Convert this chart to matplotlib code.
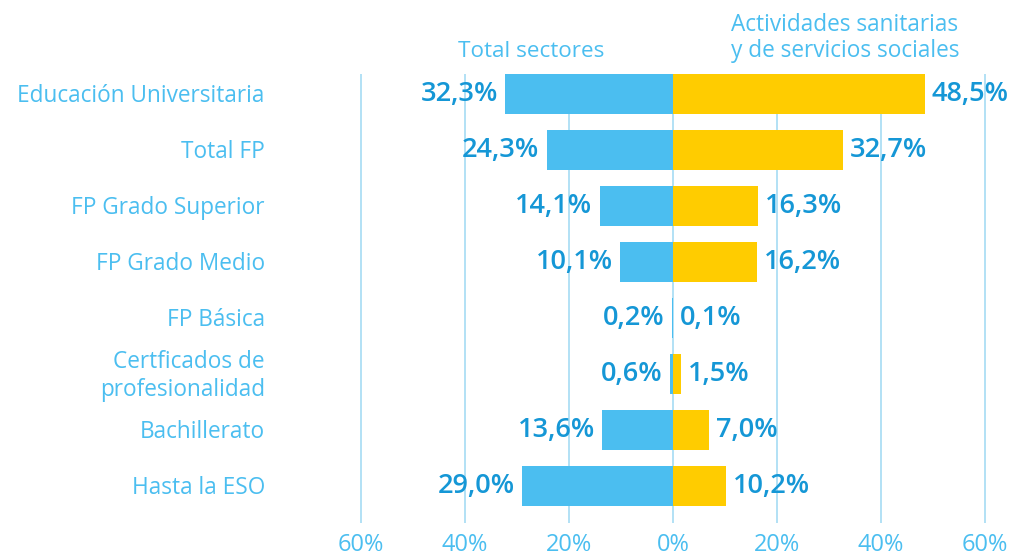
import numpy as np
import matplotlib.pyplot as plt

categorias = ['Educación Universitaria', 'Total FP', 'FP Grado Superior', 'FP Grado Medio',
              'FP Básica', 'Certficados de\nprofesionalidad', 'Bachillerato', 'Hasta la ESO']
total_sectores = [32.3, 24.3, 14.1, 10.1, 0.2, 0.6, 13.6, 29.0]
sanitarias = [48.5, 32.7, 16.3, 16.2, 0.1, 1.5, 7.0, 10.2]
ticks = [-60, -40, -20, 0, 20, 40, 60]

azul = '#4bbef0'
amarillo = '#ffcc00'
txt_claro = '#4bbef0'
txt_valor = '#1597d6'
rejilla = '#a6dcf4'

plt.rcParams['font.family'] = ['Open Sans', 'DejaVu Sans']

fig = plt.figure(figsize=(10.15, 5.56), dpi=100)
ax = fig.add_axes([0.330, 0.0594, 0.666, 0.8076])

y = np.arange(len(categorias))
for t in ticks:
    ax.axvline(t, color=rejilla, lw=1.2, zorder=0)

ax.barh(y, [-v for v in total_sectores], height=0.71, color=azul, zorder=2)
ax.barh(y, sanitarias, height=0.71, color=amarillo, zorder=2)

def fmt(v):
    return f'{v:.1f}%'.replace('.', ',')

for i in range(len(categorias)):
    ax.text(-total_sectores[i] - 1.4, y[i], fmt(total_sectores[i]), ha='right', va='center',
            fontsize=19.5, color=txt_valor, fontweight='semibold', zorder=3)
    ax.text(sanitarias[i] + 1.3, y[i], fmt(sanitarias[i]), ha='left', va='center',
            fontsize=19.5, color=txt_valor, fontweight='semibold', zorder=3)
    ax.text(-78.5, y[i] + 0.03, categorias[i], ha='right', va='center', fontsize=16.3,
            color=txt_claro, linespacing=1.2)

ax.set_xlim(-65, 65)
ax.set_ylim(7.66, -0.36)
ax.set_xticks(ticks)
ax.set_xticklabels([f'{abs(t)}%' for t in ticks], color=txt_claro, fontsize=17)
ax.tick_params(axis='x', length=0, pad=7)
ax.set_yticks([])
for s in ax.spines.values():
    s.set_visible(False)

ax.text(-27.3, -0.664, 'Total sectores', ha='center', va='baseline', fontsize=16.2, color=txt_claro)
ax.text(11.15, -1.128, 'Actividades sanitarias', ha='left', va='baseline', fontsize=16.3, color=txt_claro)
ax.text(11.15, -0.664, 'y de servicios sociales', ha='left', va='baseline', fontsize=16.3, color=txt_claro)

fig.savefig('out.png', dpi=100)
